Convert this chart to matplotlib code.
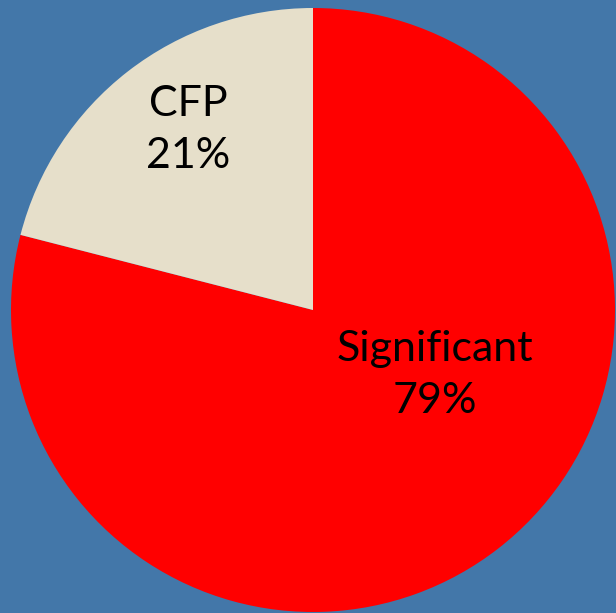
import matplotlib
matplotlib.use("Agg")
import matplotlib.pyplot as plt

categories = ["Significant", "CFP"]
values = [79, 21]
colors = ["#ff0000", "#e6dfca"]

W, H = 616, 613
fig = plt.figure(figsize=(W / 100, H / 100), dpi=100)
fig.patch.set_facecolor("#4377a9")

cx, cy, r = 313, 310, 302
ax = fig.add_axes([(cx - r) / W, (H - cy - r) / H, 2 * r / W, 2 * r / H])
ax.set_facecolor("none")
ax.pie(values, colors=colors, startangle=90, counterclock=False,
       wedgeprops=dict(linewidth=0))
ax.set_xlim(-1, 1)
ax.set_ylim(-1, 1)
ax.set_aspect("equal")
ax.axis("off")

label_pos = {"Significant": (0.404, -0.215), "CFP": (-0.414, 0.596)}
for cat, val in zip(categories, values):
    x, y = label_pos[cat]
    ax.text(x, y, f"{cat}\n{val}%", ha="center", va="center",
            fontsize=31, family="Lato", linespacing=1.45, color="black")

fig.savefig("out.png", dpi=100, facecolor=fig.get_facecolor())
